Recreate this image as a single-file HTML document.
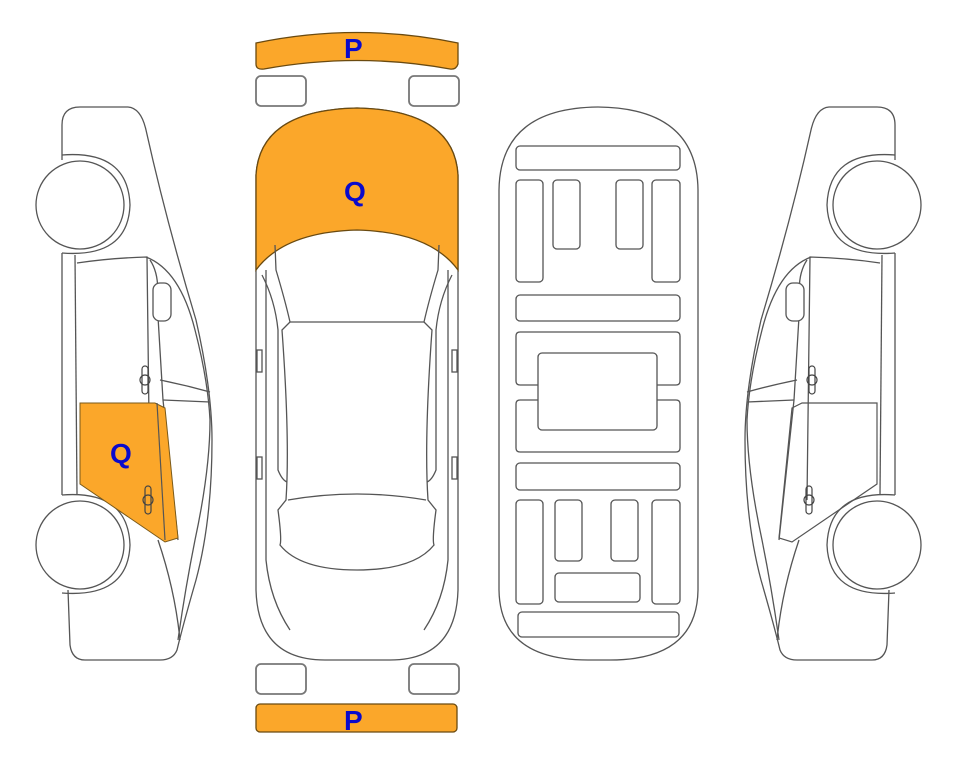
<!DOCTYPE html>
<html><head><meta charset="utf-8"><style>
html,body{margin:0;padding:0;background:#fff;width:963px;height:768px;overflow:hidden}
svg{display:block}
text{font-family:"Liberation Sans",Arial,sans-serif;font-weight:bold;fill:#0a0acc}
</style></head><body>
<svg width="963" height="768" viewBox="0 0 963 768" xmlns="http://www.w3.org/2000/svg">
<defs>
<g id="side" fill="none" stroke="#555" stroke-width="1.3">
  <path d="M62,160 L62,125 Q62,107 80,107 L128,107 Q141,108 146,130 Q166,220 196,320 Q212,390 212,440 Q212,520 196,580 Q183,625 177,650 Q173,660 160,660 L85,660 Q72,660 70,645 L68,590" fill="#fff"/>
  <path d="M62,155 Q128,150 130,205 Q128,258 62,253"/>
  <path d="M62,495 Q128,490 130,545 Q128,598 62,593"/>
  <line x1="62" y1="253" x2="62" y2="495"/>
  <line x1="75" y1="255" x2="77" y2="495"/>
  <path d="M77,263 Q110,258 147,257 L150,500"/>
  <path d="M146,257 Q180,270 195,330 Q208,380 210,420 Q210,470 195,540 Q185,590 178,640"/>
  <path d="M150,260 Q160,275 157,300 L163,400 L178,540"/>
  <rect x="153" y="283" width="18" height="38" rx="7" fill="#fff"/>
  <path d="M160,380 Q185,385 210,392"/>
  <path d="M163,400 L210,402"/>
  <path d="M158,540 Q175,590 180,640"/>
  <circle cx="80" cy="205" r="44" fill="#fff"/>
  <circle cx="80" cy="545" r="44" fill="#fff"/>
</g>
<g id="handle" fill="none" stroke="#444" stroke-width="1.2">
  <rect x="-3" y="-14" width="6" height="28" rx="3"/><circle cx="0" cy="0" r="5"/>
</g>
</defs>

<!-- left side car -->
<use href="#side"/>
<path d="M80,403 L155,403 L165,408 L178,538 L165,542 L80,484 Z" fill="#fba72a" stroke="#7a5a1a" stroke-width="1"/>
<use href="#handle" x="145" y="380"/>
<use href="#handle" x="148" y="500"/>
<line x1="157" y1="403" x2="165" y2="540" stroke="#555" stroke-width="1.2"/>
<text x="110" y="463" font-size="28">Q</text>

<!-- right side car (mirror) -->
<g transform="translate(957,0) scale(-1,1)">
  <use href="#side"/>
  <use href="#handle" x="145" y="380"/>
  <use href="#handle" x="148" y="500"/>
  <path d="M80,403 L155,403 L165,408 L178,538 L165,542 L80,484 Z" fill="none" stroke="#555" stroke-width="1.2"/>
</g>

<!-- top view car -->
<g fill="none" stroke="#555" stroke-width="1.3">
  <path d="M256,43 Q357,22 458,43 L458,64 Q456,70 450,69 Q357,52 264,69 Q256,70 256,64 Z" fill="#fba72a" stroke="#6a4a10"/>
  <rect x="256" y="76" width="50" height="30" rx="5" stroke="#777" stroke-width="1.8"/>
  <rect x="409" y="76" width="50" height="30" rx="5" stroke="#777" stroke-width="1.8"/>
  <path d="M256,270 L256,175 Q260,110 357,108 Q454,110 458,175 L458,590 Q456,660 390,660 L325,660 Q258,660 256,590 Z" fill="#fff"/>
  <path d="M256,270 L256,175 Q260,110 357,108 Q454,110 458,175 L458,270 Q430,232 357,230 Q284,232 256,270 Z" fill="#fba72a" stroke="#6a4a10"/>
  <path d="M275,245 L276,270 Q285,300 290,322 L282,330 Q290,440 286,500 L278,510 Q282,540 280,545 Q300,570 357,570 Q414,570 434,545 Q432,540 436,510 L428,500 Q424,440 432,330 L424,322 Q429,300 438,270 L439,245"/>
  <path d="M290,322 L424,322"/>
  <path d="M288,500 Q357,488 426,500"/>
  <path d="M266,270 L266,560 Q270,600 290,630"/>
  <path d="M448,270 L448,560 Q444,600 424,630"/>
  <path d="M262,275 Q275,300 278,330 L278,470 Q282,480 287,482"/>
  <path d="M452,275 Q439,300 436,330 L436,470 Q432,480 427,482"/>
  <rect x="257" y="350" width="5" height="22" fill="#fff"/>
  <rect x="452" y="350" width="5" height="22" fill="#fff"/>
  <rect x="257" y="457" width="5" height="22" fill="#fff"/>
  <rect x="452" y="457" width="5" height="22" fill="#fff"/>
  <rect x="256" y="664" width="50" height="30" rx="5" stroke="#777" stroke-width="1.8"/>
  <rect x="409" y="664" width="50" height="30" rx="5" stroke="#777" stroke-width="1.8"/>
  <rect x="256" y="704" width="201" height="28" rx="4" fill="#fba72a" stroke="#6a4a10"/>
</g>
<text x="344" y="58" font-size="28">P</text>
<text x="344" y="730" font-size="28">P</text>
<text x="344" y="201" font-size="28">Q</text>

<!-- underbody -->
<g fill="none" stroke="#555" stroke-width="1.3">
  <path d="M499,190 Q500,108 598,107 Q697,108 698,190 L698,590 Q697,660 610,660 L588,660 Q500,660 499,590 Z" fill="#fff"/>
  <rect x="516" y="146" width="164" height="24" rx="4"/>
  <rect x="516" y="180" width="27" height="102" rx="4"/>
  <rect x="553" y="180" width="27" height="69" rx="4"/>
  <rect x="616" y="180" width="27" height="69" rx="4"/>
  <rect x="652" y="180" width="28" height="102" rx="4"/>
  <rect x="516" y="295" width="164" height="26" rx="4"/>
  <path d="M538,385 L520,385 Q516,385 516,381 L516,336 Q516,332 520,332 L676,332 Q680,332 680,336 L680,381 Q680,385 676,385 L657,385"/>
  <path d="M538,400 L520,400 Q516,400 516,404 L516,448 Q516,452 520,452 L676,452 Q680,452 680,448 L680,404 Q680,400 676,400 L657,400"/>
  <rect x="538" y="353" width="119" height="77" rx="4" fill="#fff"/>
  <rect x="516" y="463" width="164" height="27" rx="4"/>
  <rect x="516" y="500" width="27" height="104" rx="4"/>
  <rect x="555" y="500" width="27" height="61" rx="4"/>
  <rect x="611" y="500" width="27" height="61" rx="4"/>
  <rect x="652" y="500" width="28" height="104" rx="4"/>
  <rect x="555" y="573" width="85" height="29" rx="4"/>
  <rect x="518" y="612" width="161" height="25" rx="4"/>
</g>
</svg>
</body></html>
